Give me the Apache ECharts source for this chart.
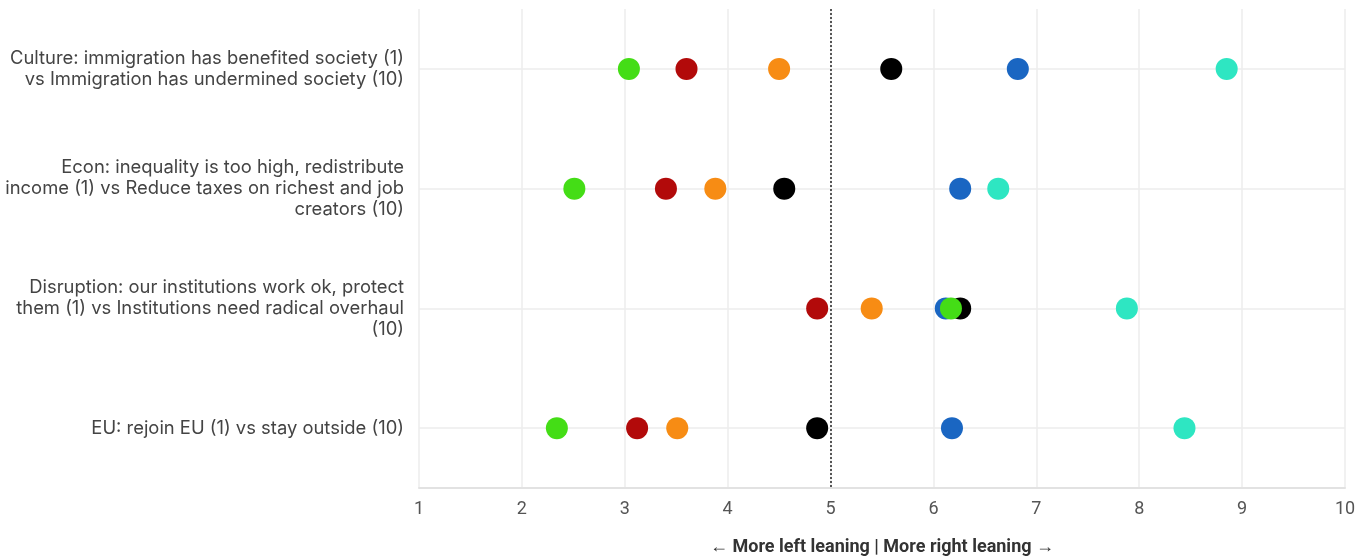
<!DOCTYPE html>
<html>
<head>
<meta charset="utf-8">
<script src="https://cdn.jsdelivr.net/npm/echarts@6/dist/echarts.min.js"></script>
<style>html,body{margin:0;padding:0;background:#fff;}#c{width:1356px;height:557px;}</style>
</head>
<body>
<div id="c"></div>
<script>
const categories = [
  "Culture: immigration has benefited society (1)\nvs Immigration has undermined society (10)",
  "Econ: inequality is too high, redistribute\nincome (1) vs Reduce taxes on richest and job\ncreators (10)",
  "Disruption: our institutions work ok, protect\nthem (1) vs Institutions need radical overhaul\n(10)",
  "EU: rejoin EU (1) vs stay outside (10)"
];
const xTicks = [1,2,3,4,5,6,7,8,9,10];
const midpoint = 5;
const seriesNames = ["Teal", "Blue", "Black", "Orange", "Red", "Green"];
const seriesColors = ["#2ee6c2", "#1a66c2", "#000000", "#f78c14", "#b20a0a", "#44dd16"];
const tealValues   = [8.85, 6.63, 7.88, 8.44];
const blueValues   = [6.82, 6.26, 6.12, 6.18];
const blackValues  = [5.59, 4.55, 6.26, 4.87];
const orangeValues = [4.50, 3.88, 5.40, 3.51];
const redValues    = [3.60, 3.40, 4.87, 3.12];
const greenValues  = [3.04, 2.51, 6.17, 2.34];
const allValues = [tealValues, blueValues, blackValues, orangeValues, redValues, greenValues];

const chart = echarts.init(document.getElementById('c'), null, {renderer: 'canvas'});

const series = [{
  type: 'scatter',
  data: [],
  silent: true,
  z: 1,
  markLine: {
    silent: true,
    symbol: 'none',
    label: {show: false},
    animation: false,
    data: categories.map(c => ({yAxis: c, lineStyle: {color: '#ececec', width: 1.5, type: 'solid'}}))
      .concat([{xAxis: midpoint, lineStyle: {color: '#555', width: 2, type: [2, 2]}}])
  }
}];
allValues.forEach((vals, i) => {
  series.push({
    name: seriesNames[i],
    type: 'scatter',
    symbol: 'circle',
    symbolSize: 22,
    zlevel: 1,
    itemStyle: {color: seriesColors[i], opacity: 1},
    data: vals.map((v, j) => [v, j]),
    z: 3 + i
  });
});

chart.setOption({
  animation: false,
  backgroundColor: '#fff',
  grid: {left: 419, right: 11, top: 9, bottom: 69, containLabel: false, outerBoundsMode: 'none'},
  xAxis: {
    type: 'value', min: 1, max: 10, interval: 1,
    name: '\u2190 More left leaning | More right leaning \u2192',
    nameLocation: 'middle', nameGap: 50,
    nameTextStyle: {fontFamily: 'Roboto', fontWeight: 'bold', fontSize: 18, color: '#333'},
    axisLine: {show: true, lineStyle: {color: '#e2e2e2', width: 2}},
    axisTick: {show: false},
    axisLabel: {margin: 12, fontFamily: 'Roboto', fontSize: 18, color: '#555',
      formatter: v => xTicks.indexOf(v) >= 0 ? String(v) : ''},
    splitLine: {show: true, lineStyle: {color: '#ececec', width: 1.5}}
  },
  yAxis: {
    type: 'category', data: categories, inverse: true, boundaryGap: true,
    axisLine: {show: false}, axisTick: {show: false},
    splitLine: {show: false},
    axisLabel: {margin: 15, fontFamily: 'Inter', fontSize: 18.4, color: '#444', lineHeight: 21, align: 'right'}
  },
  series: series
});
</script>
</body>
</html>
